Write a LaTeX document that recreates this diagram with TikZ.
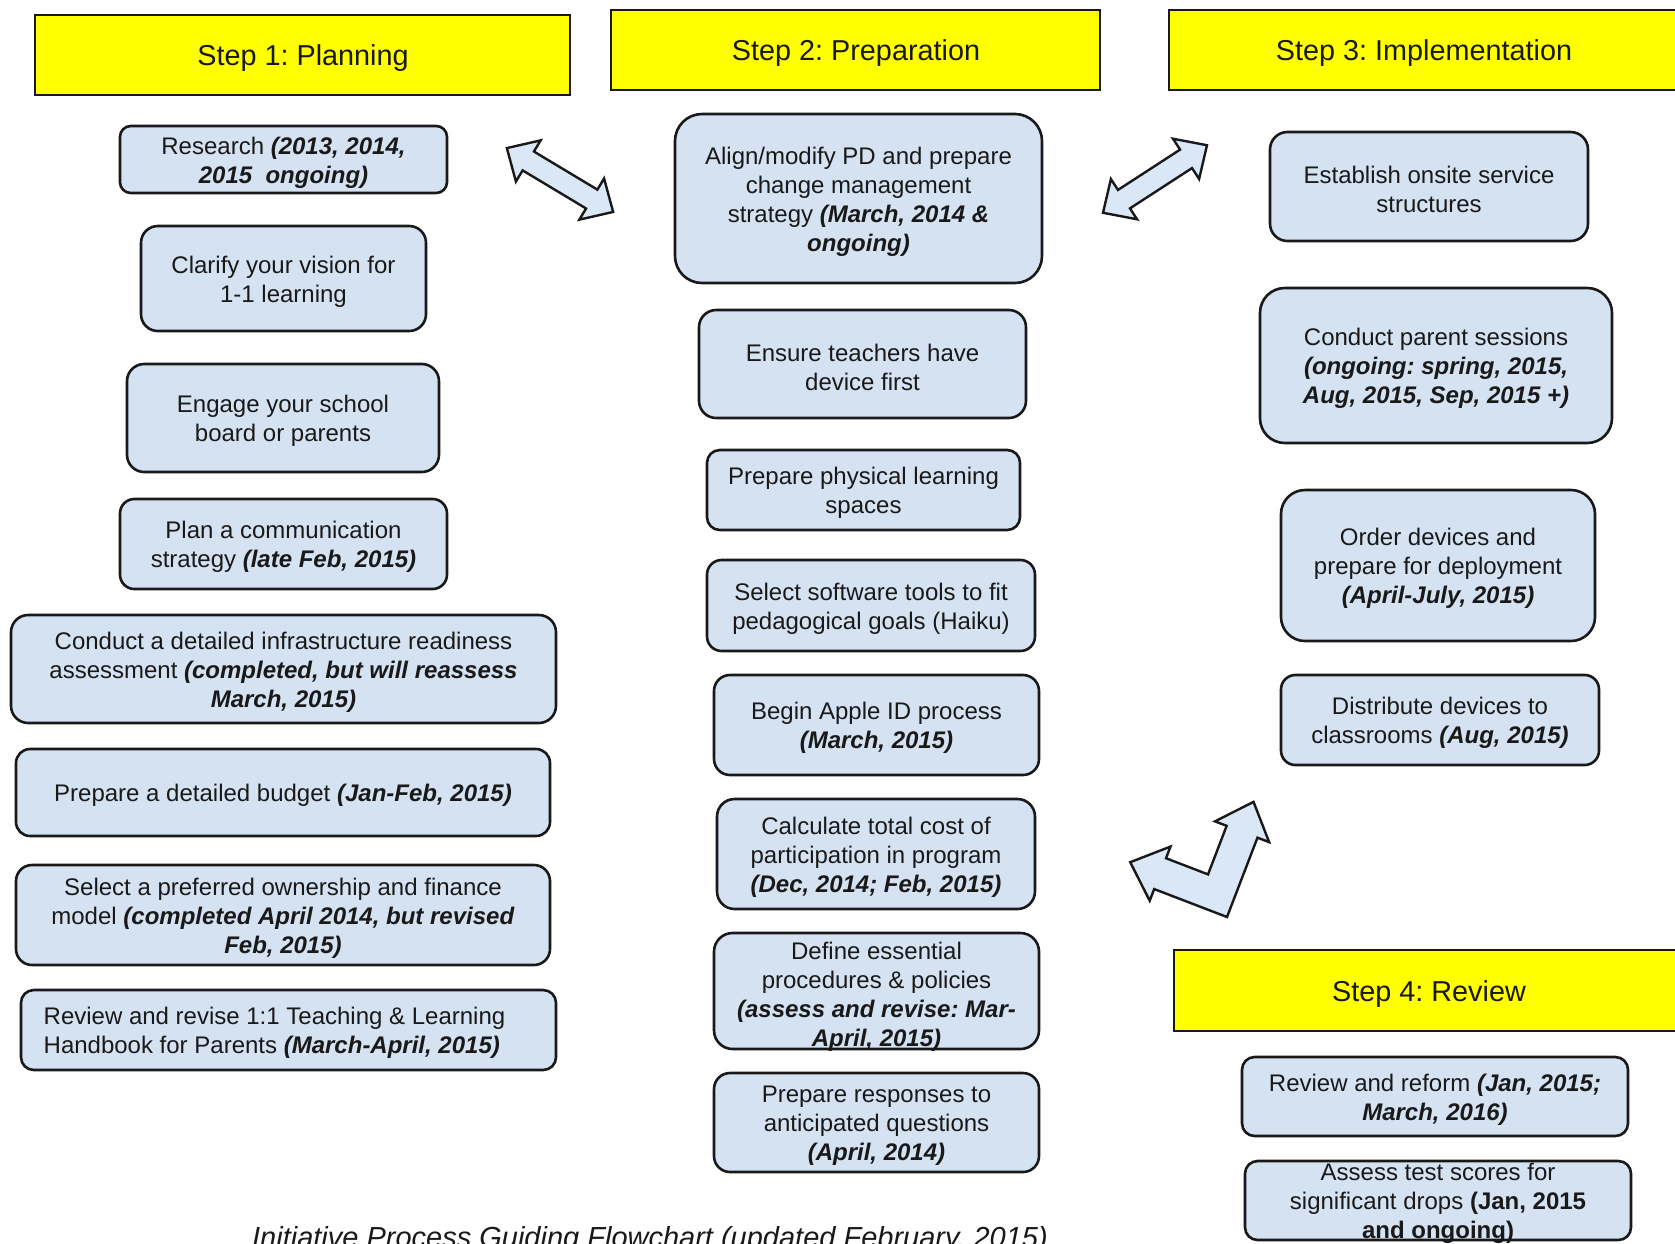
\documentclass[tikz,border=0pt]{standalone}
\usepackage{fontspec}
\setmainfont{Liberation Sans}
\usetikzlibrary{fit}
\frenchspacing
\definecolor{boxfill}{RGB}{212,226,242}
\definecolor{arrfill}{RGB}{218,231,246}
\definecolor{hdryellow}{RGB}{255,255,0}
\definecolor{ink}{RGB}{25,25,25}
\newcommand{\bi}[1]{\textbf{\textit{#1}}}
% \rbox[text opts]{name}{x1}{y1}{x2}{y2}{radius}{text}
\newcommand{\rbox}[8][]{%
  \node[rbox,rounded corners=#7,fit={(#3,#4) (#5,#6)}] (#2) {};%
  \node[txt,#1] (#2-t) at (#2.center) {#8};}
\newcommand{\stephdr}[7]{%
  \node[hdr,fit={(#2,#3) (#4,#5)}] (#1) {};%
  \node[hdrtxt] (#1-t) at (#6) {#7};}
\begin{document}
\begin{tikzpicture}[x=0.5pt,y=-0.5pt,
  rbox/.style={draw=ink,line width=1.3pt,fill=boxfill,inner sep=0pt},
  txt/.style={inner sep=0pt,align=center,text=ink,yshift=-1.6pt,font=\fontsize{12}{14.5}\selectfont},
  hdr/.style={draw=ink,line width=1.2pt,fill=hdryellow,inner sep=0pt},
  hdrtxt/.style={inner sep=0pt,text=ink,yshift=-1.6pt,font=\fontsize{14.4}{17}\selectfont},
  blockarrow/.style={draw=ink,line width=1.2pt,fill=arrfill,line join=miter}]
\useasboundingbox[fill=white] (0,0) rectangle (1675,1243);

% headers
\stephdr{s1}{35}{15}{570}{95}{303,55}{Step 1: Planning}
\stephdr{s2}{611}{10}{1100}{90}{856,50}{Step 2: Preparation}
\stephdr{s3}{1169}{10}{1700}{90}{1424,50}{Step 3: Implementation}
\stephdr{s4}{1174}{950}{1700}{1031}{1429,991}{Step 4: Review}

% left column
\rbox{l1}{120}{126}{447}{193}{5.4pt}{Research \bi{(2013, 2014,}\\\bi{2015\ \ ongoing)}}
\rbox{l2}{141}{226}{426}{331}{8.4pt}{Clarify your vision for\\1-1 learning}
\rbox{l3}{127}{364}{439}{472}{8.6pt}{Engage your school\\board or parents}
\rbox{l4}{120}{499}{447}{589}{7.2pt}{Plan a communication\\strategy \bi{(late Feb, 2015)}}
\rbox{l5}{11}{615}{556}{723}{8.6pt}{Conduct a detailed infrastructure readiness\\assessment \bi{(completed, but will reassess}\\\bi{March, 2015)}}
\rbox{l6}{16}{749}{550}{836}{7pt}{Prepare a detailed budget \bi{(Jan-Feb, 2015)}}
\rbox{l7}{16}{865}{550}{965}{8pt}{Select a preferred ownership and finance\\model \bi{(completed April 2014, but revised}\\\bi{Feb, 2015)}}
\rbox[align=left,xshift=-7pt]{l8}{21}{990}{556}{1070}{6.4pt}{Review and revise 1:1 Teaching \& Learning\\Handbook for Parents \bi{(March-April, 2015)}}

% middle column
\rbox{m1}{675}{114}{1042}{283}{13.5pt}{Align/modify PD and prepare\\change management\\strategy \bi{(March, 2014 \&}\\\bi{ongoing)}}
\rbox{m2}{699}{310}{1026}{418}{8.6pt}{Ensure teachers have\\device first}
\rbox{m3}{707}{450}{1020}{530}{6.4pt}{Prepare physical learning\\spaces}
\rbox{m4}{707}{560}{1035}{651}{7.3pt}{Select software tools to fit\\pedagogical goals (Haiku)}
\rbox{m5}{714}{675}{1039}{775}{8pt}{Begin Apple ID process\\\bi{(March, 2015)}}
\rbox{m6}{717}{799}{1035}{909}{8.8pt}{Calculate total cost of\\participation in program\\\bi{(Dec, 2014; Feb, 2015)}}
\rbox[yshift=-1.5pt]{m7}{714}{933}{1039}{1049}{9.3pt}{Define essential\\procedures \& policies\\\bi{(assess and revise: Mar-}\\\bi{April, 2015)}}
\rbox{m8}{714}{1073}{1039}{1172}{8pt}{Prepare responses to\\anticipated questions\\\bi{(April, 2014)}}

% right column
\rbox{r1}{1270}{132}{1588}{241}{8.7pt}{Establish onsite service\\structures}
\rbox{r2}{1260}{288}{1612}{443}{12.4pt}{Conduct parent sessions\\\bi{(ongoing: spring, 2015,}\\\bi{Aug, 2015, Sep, 2015 +)}}
\rbox{r3}{1281}{490}{1595}{641}{12pt}{Order devices and\\prepare for deployment\\\bi{(April-July, 2015)}}
\rbox{r4}{1281}{675}{1599}{765}{7.2pt}{Distribute devices to\\classrooms \bi{(Aug, 2015)}}
\rbox{r5}{1242}{1057}{1628}{1136}{6.3pt}{Review and reform \bi{(Jan, 2015;}\\\bi{March, 2016)}}
\rbox{r6}{1245}{1161}{1631}{1240}{6.3pt}{Assess test scores for\\significant drops \textbf{(Jan, 2015}\\\textbf{and ongoing)}}

% block arrows
\begin{scope}[shift={(560,180)},rotate=-31]
\draw[blockarrow] (-62,0) -- (-37,-24) -- (-37,-11) -- (37,-11) -- (37,-24) -- (62,0)
  -- (37,24) -- (37,11) -- (-37,11) -- (-37,24) -- cycle;
\end{scope}
\begin{scope}[shift={(1155,179)},rotate=33]
\draw[blockarrow] (-62,0) -- (-37,-24) -- (-37,-11) -- (37,-11) -- (37,-24) -- (62,0)
  -- (37,24) -- (37,11) -- (-37,11) -- (-37,24) -- cycle;
\end{scope}
\begin{scope}[shift={(1227,917)},rotate=-21]
\draw[blockarrow] (0,0) -- (0,-85) -- (12.5,-85) -- (-16.5,-117) -- (-45.5,-85) -- (-33,-85)
  -- (-33,-33) -- (-78,-33) -- (-78,-45.5) -- (-110,-16.5) -- (-78,12.5) -- (-78,0) -- cycle;
\end{scope}

% caption
\node[anchor=base,inner sep=0pt,text=ink,font=\itshape\fontsize{14.5}{17}\selectfont] (caption) at (650,1247)
  {Initiative Process Guiding Flowchart (updated February, 2015)};
\end{tikzpicture}
\end{document}
